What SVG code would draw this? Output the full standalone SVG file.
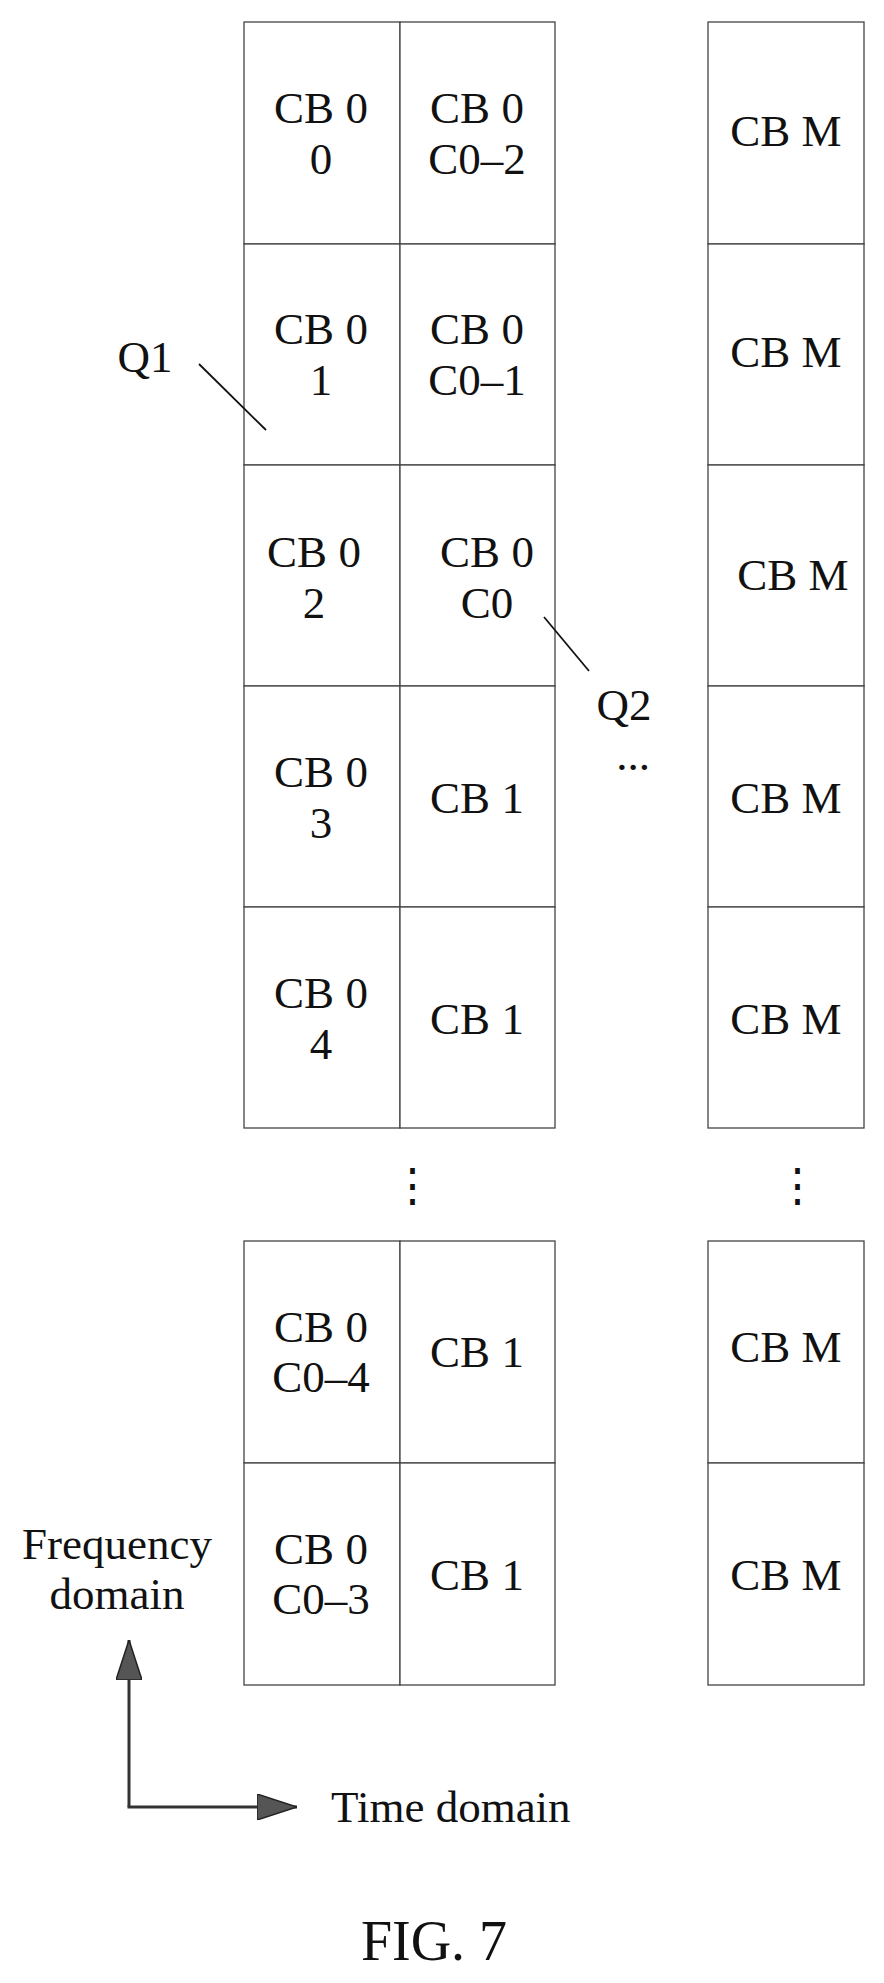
<svg xmlns="http://www.w3.org/2000/svg" width="884" height="1983" viewBox="0 0 884 1983">
<style>
rect{fill:#fff;stroke:#444;stroke-width:1.3}
text{font-family:"Liberation Serif",serif;font-size:45px;fill:#111;text-anchor:middle}
.l{stroke:#111;stroke-width:1.8;fill:none}
</style>
<defs>
<marker id="ah" markerWidth="40" markerHeight="26" refX="40" refY="13" orient="auto" markerUnits="userSpaceOnUse"><path d="M0,0L40,13L0,26z" fill="#555" stroke="#222" stroke-width="1.5"/></marker></defs>
<g id="col0">
<rect x="244" y="22" width="156" height="222"/><rect x="244" y="244" width="156" height="221"/><rect x="244" y="465" width="156" height="221"/><rect x="244" y="686" width="156" height="221"/><rect x="244" y="907" width="156" height="221"/>
<rect x="244" y="1241" width="156" height="222"/><rect x="244" y="1463" width="156" height="222"/>
<text x="321" y="123">CB 0</text><text x="321" y="174">0</text>
<text x="321" y="344">CB 0</text><text x="321" y="395">1</text>
<text x="314" y="567">CB 0</text><text x="314" y="618">2</text>
<text x="321" y="787">CB 0</text><text x="321" y="838">3</text>
<text x="321" y="1008">CB 0</text><text x="321" y="1059">4</text>
<text x="321" y="1342">CB 0</text><text x="321" y="1392">C0–4</text>
<text x="321" y="1564">CB 0</text><text x="321" y="1614">C0–3</text>
</g>
<g id="col1">
<rect x="400" y="22" width="155" height="222"/><rect x="400" y="244" width="155" height="221"/><rect x="400" y="465" width="155" height="221"/><rect x="400" y="686" width="155" height="221"/><rect x="400" y="907" width="155" height="221"/>
<rect x="400" y="1241" width="155" height="222"/><rect x="400" y="1463" width="155" height="222"/>
<text x="477" y="123">CB 0</text><text x="477" y="174">C0–2</text>
<text x="477" y="344">CB 0</text><text x="477" y="395">C0–1</text>
<text x="487" y="567">CB 0</text><text x="487" y="618">C0</text>
<text x="477" y="813">CB 1</text>
<text x="477" y="1034">CB 1</text>
<text x="477" y="1367">CB 1</text>
<text x="477" y="1590">CB 1</text>
</g>
<g id="colM">
<rect x="708" y="22" width="156" height="222"/><rect x="708" y="244" width="156" height="221"/><rect x="708" y="465" width="156" height="221"/><rect x="708" y="686" width="156" height="221"/><rect x="708" y="907" width="156" height="221"/>
<rect x="708" y="1241" width="156" height="222"/><rect x="708" y="1463" width="156" height="222"/>
<text x="786" y="146">CB M</text><text x="786" y="367">CB M</text><text x="793" y="590">CB M</text><text x="786" y="813">CB M</text><text x="786" y="1034">CB M</text><text x="786" y="1362">CB M</text><text x="786" y="1590">CB M</text>
</g>
<g id="labels">
<text x="145" y="372">Q1</text>
<text x="624" y="720">Q2</text>
<text x="633" y="770">...</text>
<text x="412" y="1200">⋮</text>
<text x="797" y="1200">⋮</text>
<text x="117" y="1559">Frequency</text>
<text x="117" y="1609">domain</text>
<text x="331" y="1822" style="text-anchor:start">Time domain</text>
<text x="434" y="1960" style="font-size:56px">FIG. 7</text>
</g>
<g id="connectors">
<line class="l" x1="199" y1="364" x2="266" y2="430"/>
<line class="l" x1="544" y1="617" x2="589" y2="671"/>
<path d="M129,1807V1640" stroke="#333" stroke-width="3" fill="none" marker-end="url(#ah)"/>
<path d="M127.5,1807H297" stroke="#333" stroke-width="3" fill="none" marker-end="url(#ah)"/>
</g>
</svg>
